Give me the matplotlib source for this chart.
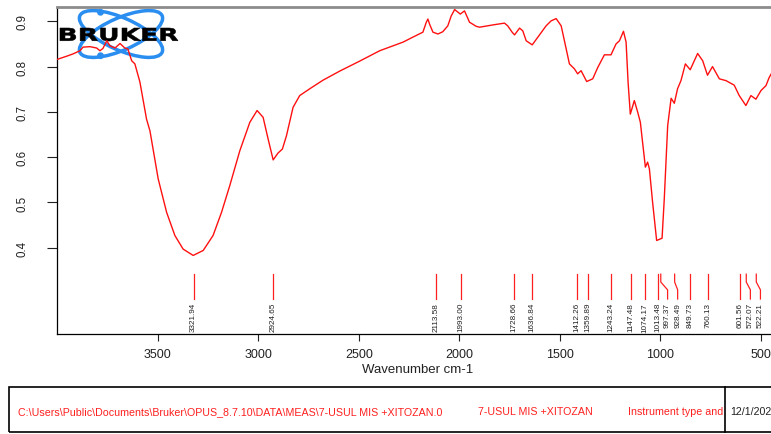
import numpy as np
import matplotlib
matplotlib.use("Agg")
import matplotlib.pyplot as plt
from matplotlib.patches import Ellipse, Circle, PathPatch, Rectangle
from matplotlib.lines import Line2D
from matplotlib.textpath import TextPath
from matplotlib.font_manager import FontProperties
from matplotlib.transforms import Affine2D, blended_transform_factory

plt.rcParams['font.family'] = ['Liberation Sans', 'DejaVu Sans']

# spectre IR (transmittance)
wavenumber = np.array([
    4000, 3953, 3922, 3887, 3872, 3837, 3804, 3788, 3773, 3754, 3738, 3713,
    3688, 3664, 3649, 3630, 3614, 3589, 3556, 3539, 3498, 3456, 3415, 3374,
    3324, 3274, 3225, 3183, 3142, 3092, 3042, 3006, 2976, 2951, 2926, 2902,
    2880, 2860, 2827, 2794, 2744, 2678, 2595, 2496, 2396, 2280, 2231, 2181,
    2164, 2156, 2148, 2131, 2106, 2082, 2057, 2040, 2023, 1995, 1974, 1949,
    1916, 1899, 1833, 1775, 1759, 1737, 1725, 1700, 1684, 1667, 1637, 1609,
    1568, 1543, 1518, 1493, 1468, 1452, 1427, 1411, 1394, 1366, 1336, 1311,
    1278, 1245, 1220, 1203, 1183, 1170, 1160, 1149, 1129, 1112, 1099, 1088,
    1074, 1063, 1054, 1038, 1018, 991, 980, 963, 946, 930, 914, 897,
    875, 851, 814, 789, 765, 740, 706, 673, 632, 607, 574, 549,
    524, 499, 474, 458, 440])
transmittance = np.array([
    0.816, 0.823, 0.828, 0.835, 0.843, 0.844, 0.841, 0.835, 0.840, 0.857, 0.846, 0.841,
    0.851, 0.841, 0.839, 0.813, 0.806, 0.766, 0.684, 0.658, 0.552, 0.478, 0.427, 0.397,
    0.383, 0.394, 0.427, 0.478, 0.537, 0.614, 0.677, 0.703, 0.688, 0.640, 0.594, 0.609,
    0.618, 0.647, 0.710, 0.736, 0.751, 0.770, 0.790, 0.812, 0.835, 0.854, 0.865, 0.876,
    0.898, 0.905, 0.894, 0.876, 0.872, 0.877, 0.890, 0.912, 0.926, 0.916, 0.923, 0.898,
    0.889, 0.887, 0.892, 0.896, 0.890, 0.876, 0.870, 0.885, 0.879, 0.857, 0.848, 0.865,
    0.890, 0.901, 0.906, 0.890, 0.839, 0.806, 0.795, 0.784, 0.791, 0.767, 0.773, 0.798,
    0.826, 0.826, 0.850, 0.857, 0.878, 0.854, 0.765, 0.695, 0.725, 0.699, 0.677, 0.633,
    0.578, 0.589, 0.574, 0.500, 0.416, 0.421, 0.508, 0.670, 0.730, 0.719, 0.751, 0.769,
    0.806, 0.793, 0.829, 0.813, 0.781, 0.800, 0.773, 0.769, 0.759, 0.736, 0.714, 0.736,
    0.728, 0.747, 0.758, 0.776, 0.790])

# pics annotés
peaks = [3321.94, 2924.65, 2113.58, 1993.00, 1728.66, 1636.84, 1412.26, 1359.89,
         1243.24, 1147.48, 1074.17, 1013.48, 997.37, 928.49, 849.73, 760.13,
         601.56, 572.07, 522.21]

x_ticks = [3500, 3000, 2500, 2000, 1500, 1000, 500]
y_ticks = [0.4, 0.5, 0.6, 0.7, 0.8, 0.9]

file_path = r"C:\Users\Public\Documents\Bruker\OPUS_8.7.10\DATA\MEAS\7-USUL MIS +XITOZAN.0"
sample_name = "7-USUL MIS +XITOZAN"
instrument = "Instrument type and"
date_str = "12/1/2023"

W, H = 771, 435
fig = plt.figure(figsize=(W / 100, H / 100), dpi=100)
ax = fig.add_axes([57.3 / W, (H - 335) / H, 1 - 57.3 / W, 327 / H])

ax.plot(wavenumber, transmittance, color='#ff1010', lw=1.0, zorder=3)
ax.set_xlim(4000, 449)
ax.set_ylim(0.2095, 0.9316)

ax.set_xticks(x_ticks)
ax.set_yticks(y_ticks)
ax.set_yticklabels([f"{v:.1f}" for v in y_ticks], rotation=90, va='center')
ax.tick_params(axis='y', length=7, width=0.8, pad=14, labelsize=8.3, colors='#222222')
ax.tick_params(axis='x', length=5, width=0.8, pad=5, labelsize=9, colors='#222222')
ax.spines['right'].set_visible(False)
ax.spines['top'].set_color('#8c8c8c')
ax.spines['top'].set_linewidth(2)
ax.spines['left'].set_linewidth(0.9)
ax.spines['bottom'].set_linewidth(0.9)
ax.set_xlabel("Wavenumber cm-1", fontsize=9.5, color='#222222')
ax.xaxis.set_label_coords((418 - 57.3) / (W - 57.3), -0.088)

# marqueurs des pics, avec décalage des étiquettes trop proches
trans = blended_transform_factory(ax.transData, ax.transAxes)
prev = None
for p in peaks:
    lx = p
    if prev is not None and prev - lx < 50:
        lx = prev - 50
    prev = lx
    if lx == p:
        xs, ys = [p, p], [0.183, 0.107]
    else:
        xs, ys = [p, p, lx, lx], [0.183, 0.159, 0.135, 0.107]
    ax.add_line(Line2D(xs, ys, transform=trans, color='#ff2020', lw=0.9))
    ax.text(lx, 0.098, f"{p:.2f}", transform=trans, rotation=90, ha='center',
            va='top', fontsize=5.9, color='#222222')

# logo Bruker (coordonnées en pixels)
pix = Affine2D().scale(1 / W, -1 / H).translate(0, 1) + fig.transFigure
blue = '#2a8df0'
for ang in (24, -24):
    ax.add_patch(Ellipse((121, 35), 90, 32, angle=ang, fill=False, ec=blue,
                         lw=2.5, transform=pix, zorder=1))
for dy in (13.3, 56.7):
    ax.add_patch(Circle((100.5, dy), 3.4, fc=blue, ec='none', transform=pix, zorder=1))
tp = TextPath((0, 0), "BRUKER", size=10, prop=FontProperties(family="DejaVu Sans", weight="bold"))
ext = tp.get_extents()
tt = Affine2D().translate(-ext.x0, -ext.y0).scale(118 / ext.width, -13 / ext.height).translate(60, 42)
ax.add_patch(PathPatch(tt.transform_path(tp), fc='black', ec='black', lw=0.4,
                       transform=pix, zorder=2))

# cadre d'information en bas
fig.patches.append(Rectangle((8.5 / W, 1 - 432.5 / H), 1.0, 44.5 / H, fill=False,
                             ec='black', lw=1.2, transform=fig.transFigure))
fig.lines.append(Line2D([725 / W, 725 / W], [1 - 432.5 / H, 1 - 388 / H],
                        color='black', lw=1.2, transform=fig.transFigure))
ty = 1 - 412 / H
fig.text(17.5 / W, ty, file_path, fontsize=7.7, color='#ff2020', va='center')
fig.text(478 / W, ty, sample_name, fontsize=7.7, color='#ff2020', va='center')
fig.text(628 / W, ty, instrument, fontsize=7.7, color='#ff2020', va='center')
fig.text(730 / W, ty, date_str, fontsize=7.7, color='#222222', va='center')

fig.savefig("out.png", dpi=100)
